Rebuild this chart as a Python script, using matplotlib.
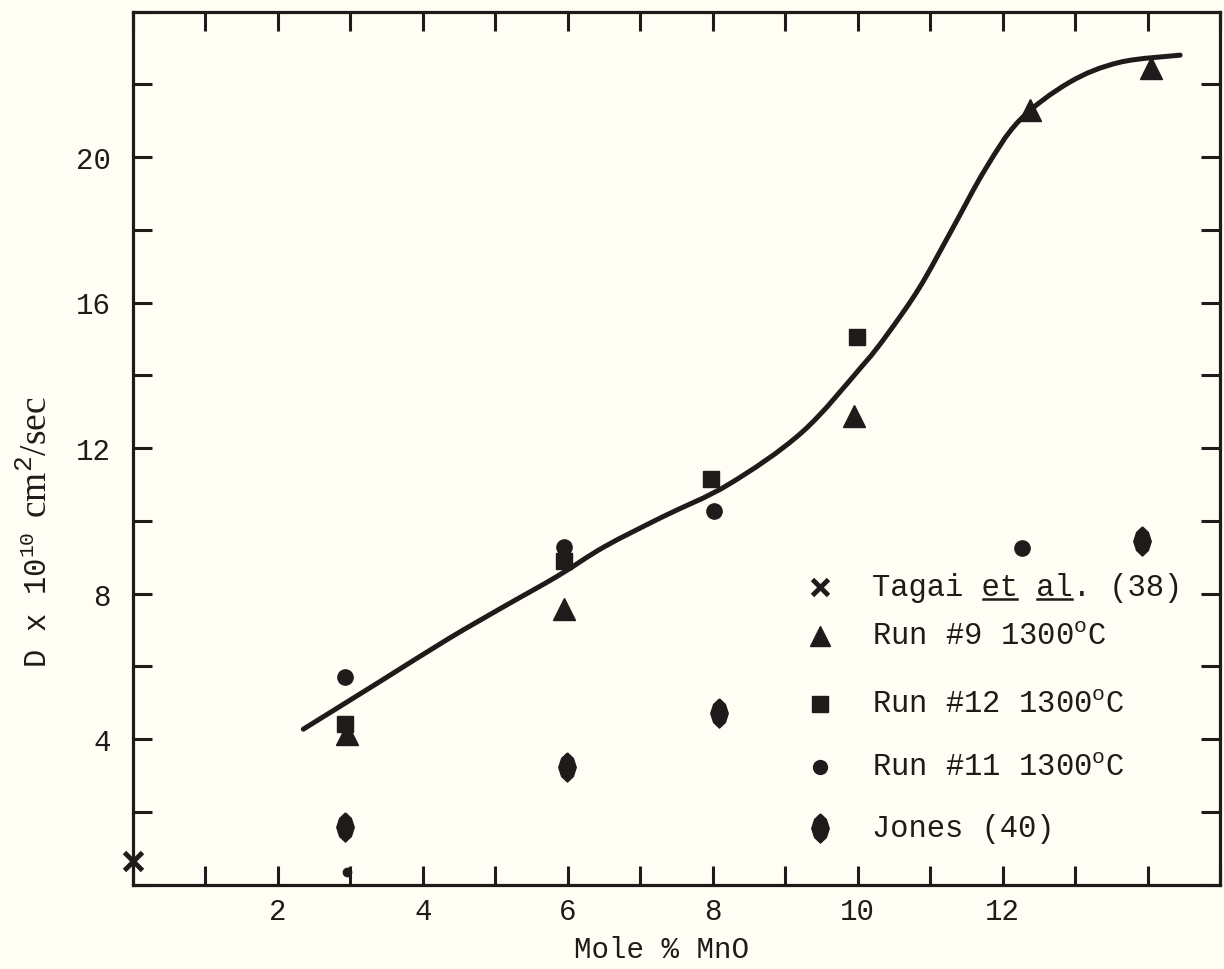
import matplotlib
matplotlib.use("Agg")
import matplotlib.pyplot as plt
from matplotlib.lines import Line2D
from matplotlib.path import Path
from matplotlib.patches import PathPatch
from matplotlib.ticker import FixedLocator, FixedFormatter

# ---------------- data ----------------
tagai_x = [0.0]
tagai_y = [0.65]

run9_x = [2.95, 5.95, 9.95, 12.38, 14.05]
run9_y = [4.15, 7.57, 12.87, 21.3, 22.46]

run12_x = [2.92, 5.95, 7.98, 9.99]
run12_y = [4.4, 8.89, 11.14, 15.04]

run11_x = [2.92, 5.95, 8.02, 12.27]
run11_y = [5.70, 9.27, 10.28, 9.25]

jones_x = [2.92, 5.99, 8.08, 13.93]
jones_y = [1.58, 3.23, 4.71, 9.45]

stray_x = [2.95]
stray_y = [0.35]

# hand-drawn fit curve
curve_x = [2.35, 3.4, 4.34, 5.1, 5.86, 6.5, 7.3, 8.22, 9.23, 10.06, 10.4,
           10.85, 11.3, 11.76, 12.23, 12.92, 13.61, 14.45]
curve_y = [4.27, 5.57, 6.74, 7.62, 8.48, 9.28, 10.1, 11.0, 12.43, 14.25, 15.1,
           16.4, 18.0, 19.66, 21.0, 22.05, 22.6, 22.8]

x_ticks = list(range(0, 16))
x_tick_labels = ['', '', '2', '', '4', '', '6', '', '8', '', '10', '', '12', '', '', '']
y_ticks = list(range(0, 25, 2))
y_tick_labels = ['', '', '4', '', '8', '', '12', '', '16', '', '20', '', '']

legend_labels = ["Tagai et al. (38)", "Run #9 1300$^{\\mathrm{o}}$C",
                 "Run #12 1300$^{\\mathrm{o}}$C", "Run #11 1300$^{\\mathrm{o}}$C",
                 "Jones (40)"]
x_label = "Mole % MnO"
y_label_part1 = "D x 10$^{10}$"
y_label_part2 = "cm$^{2}$/sec"

# ---------------- style ----------------
BG = "#fffef5"
INK = "#1e1c1a"
plt.rcParams['mathtext.fontset'] = 'custom'
plt.rcParams['mathtext.rm'] = 'Liberation Mono'
plt.rcParams['mathtext.sf'] = 'Liberation Serif'
plt.rcParams['mathtext.it'] = 'Liberation Mono'
MONO = 'Liberation Mono'
SERIF = 'Liberation Serif'

fig = plt.figure(figsize=(12.24, 9.70), dpi=100, facecolor=BG)
ax = fig.add_axes([133 / 1224, 1 - 885.5 / 970, 1087 / 1224, 873 / 970])
ax.set_facecolor(BG)
ax.set_xlim(0, 15)
ax.set_ylim(0, 24)

for s in ax.spines.values():
    s.set_linewidth(2.3)
    s.set_color(INK)

ax.xaxis.set_major_locator(FixedLocator(x_ticks))
ax.xaxis.set_major_formatter(FixedFormatter(x_tick_labels))
ax.yaxis.set_major_locator(FixedLocator(y_ticks))
ax.yaxis.set_major_formatter(FixedFormatter(y_tick_labels))
ax.tick_params(direction='in', length=14, width=2.2, color=INK,
               top=True, right=True, labelsize=21, labelcolor=INK)
ax.tick_params(axis='x', pad=9)
ax.tick_params(axis='y', pad=16)
for lab in ax.get_xticklabels() + ax.get_yticklabels():
    lab.set_family(MONO)

# smooth curve through the read points (cubic Bezier segments drawn by matplotlib)
verts = [(curve_x[0], curve_y[0])]
codes = [Path.MOVETO]
n = len(curve_x)
for i in range(n - 1):
    p0 = (curve_x[max(i - 1, 0)], curve_y[max(i - 1, 0)])
    p1 = (curve_x[i], curve_y[i])
    p2 = (curve_x[i + 1], curve_y[i + 1])
    p3 = (curve_x[min(i + 2, n - 1)], curve_y[min(i + 2, n - 1)])
    c1 = (p1[0] + (p2[0] - p0[0]) / 6, p1[1] + (p2[1] - p0[1]) / 6)
    c2 = (p2[0] - (p3[0] - p1[0]) / 6, p2[1] - (p3[1] - p1[1]) / 6)
    verts += [c1, c2, p2]
    codes += [Path.CURVE4] * 3
ax.add_patch(PathPatch(Path(verts, codes), facecolor='none', edgecolor=INK,
                       lw=3.6, capstyle='round', joinstyle='round', zorder=3))

# markers
jones_marker = [(0, 1), (0.4, 0.62), (0.6, 0.0), (0.4, -0.62), (0, -1),
                (-0.4, -0.62), (-0.6, 0.0), (-0.4, 0.62), (0, 1)]
ax.plot(tagai_x, tagai_y, ls='none', marker='x', ms=13, mew=3.5, color=INK, clip_on=False, zorder=4)
ax.plot(run9_x, run9_y, ls='none', marker='^', ms=16, color=INK, zorder=4)
ax.plot(run12_x, run12_y, ls='none', marker='s', ms=12, color=INK, zorder=4)
ax.plot(run11_x, run11_y, ls='none', marker='o', ms=11, color=INK, zorder=4)
ax.plot(jones_x, jones_y, ls='none', marker=jones_marker, ms=21, color=INK, zorder=4)
ax.plot(stray_x, stray_y, ls='none', marker='o', ms=6, color=INK, zorder=4)

# manual legend
leg_mx = 0.632
leg_tx = 0.680
leg_rows = [0.341, 0.285, 0.207, 0.135, 0.065]
leg_markers = [dict(marker='x', ms=12, mew=3.5), dict(marker='^', ms=15),
               dict(marker='s', ms=11), dict(marker='o', ms=10),
               dict(marker=jones_marker, ms=21)]
texts = []
for lbl, yy, mk in zip(legend_labels, leg_rows, leg_markers):
    ax.plot([leg_mx], [yy], ls='none', color=INK, transform=ax.transAxes,
            clip_on=False, **mk)
    t = ax.text(leg_tx, yy, lbl, transform=ax.transAxes, fontsize=22,
                family=MONO, color=INK, va='center', ha='left')
    texts.append(t)

ax.set_xlabel(x_label, fontsize=21, family=MONO, color=INK)
ax.xaxis.set_label_coords(0.486, -0.058)

# y label in two parts: typewriter "D x 10^10" and serif "cm^2/sec"
ylab_x = -0.079          # baseline position (axes fraction)
ylab_start = (885.5 - 668) / 873
yl1 = ax.text(ylab_x, ylab_start, y_label_part1, transform=ax.transAxes,
              rotation=90, rotation_mode='anchor', ha='left', va='baseline',
              fontsize=22, family=MONO, color=INK)

fig.canvas.draw()
renderer = fig.canvas.get_renderer()
bb1 = yl1.get_window_extent(renderer)
ax_bb = ax.get_window_extent(renderer)
start2 = (bb1.y1 + 14 - ax_bb.y0) / ax_bb.height
ax.text(ylab_x, start2, y_label_part2, transform=ax.transAxes,
        rotation=90, rotation_mode='anchor', ha='left', va='baseline',
        fontsize=27, family=SERIF, color=INK,
        math_fontfamily='custom')

# underline "et" and "al" in the Tagai entry
t0 = texts[0]
bb = t0.get_window_extent(renderer)
s0 = legend_labels[0]
cw = bb.width / len(s0)
inv = fig.transFigure.inverted()
for i0, i1 in [(6, 8), (9, 11)]:
    xa = bb.x0 + i0 * cw + 1
    xb = bb.x0 + i1 * cw - 1
    yl = bb.y0 + 0.10 * bb.height
    (fx0, fy0), (fx1, fy1) = inv.transform([(xa, yl), (xb, yl)])
    fig.add_artist(Line2D([fx0, fx1], [fy0, fy1], transform=fig.transFigure,
                          color=INK, lw=1.8))

fig.savefig("out.png", dpi=100, facecolor=BG)
